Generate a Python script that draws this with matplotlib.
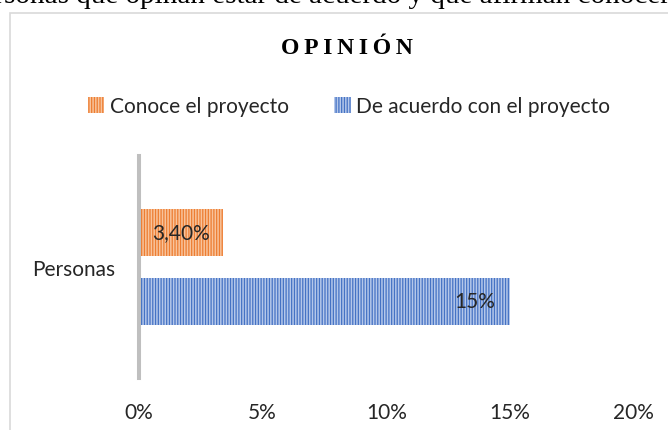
import matplotlib.pyplot as plt
from matplotlib.patches import Rectangle

# data
categoria = 'Personas'
series = ['Conoce el proyecto', 'De acuerdo con el proyecto']
valores = [3.4, 15]
etiquetas = ['3,40%', '15%']
colores = ['#ed7d31', '#4472c4']
rayas = ['#f8c39b', '#b4c7ea']
ticks = [0, 5, 10, 15, 20]
tick_labels = ['0%', '5%', '10%', '15%', '20%']

plt.rcParams['hatch.linewidth'] = 1.1
W, H = 668, 431
fig = plt.figure(figsize=(W / 100, H / 100), dpi=100)

def fx(x): return x / W
def fy(y): return 1 - y / H

# texto del documento (cortado arriba, como en la captura)
fig.text(fx(318), fy(3), 'personas que opinan estar de acuerdo y que afirman conocer',
         family='Liberation Serif', fontsize=21, ha='center', va='baseline')

# marco del grafico
fig.patches.append(Rectangle((fx(10), fy(700)), 1.2, fy(14) - fy(700),
                             transform=fig.transFigure, fill=False,
                             edgecolor='#d9d9d9', lw=1.2))

fig.text(fx(347), fy(48), '\u2009'.join('OPINIÓN'), family='Liberation Serif',
         fontweight='bold', fontsize=17, ha='center', va='center')

ax = fig.add_axes([fx(139), fy(379), fx(633.6) - fx(139), (379 - 157) / H])

alto = 0.212
pos = [0.155, -0.155]
barras = []
for i in range(len(series)):
    b = ax.barh(pos[i], valores[i], height=alto, color=colores[i],
                edgecolor=rayas[i], linewidth=0, hatch='||||||', label=series[i])
    barras.append(b)

ax.text(valores[0] / 2, pos[0], etiquetas[0], ha='center', va='center',
        family='Lato', fontsize=15, color='#262626')
ax.text(valores[1] - 0.6, pos[1], etiquetas[1], ha='right', va='center',
        family='Lato', fontsize=15, color='#262626')

ax.set_xlim(0, 20)
ax.set_ylim(-0.5, 0.5)
ax.set_xticks(ticks)
ax.set_xticklabels(tick_labels)
ax.set_yticks([0])
ax.set_yticklabels([categoria])
ax.tick_params(axis='x', length=0, pad=17, labelsize=15, labelcolor='#262626')
ax.tick_params(axis='y', length=0, pad=17, labelsize=15, labelcolor='#262626')
for lbl in ax.get_xticklabels() + ax.get_yticklabels():
    lbl.set_family('Lato')
for s in ['top', 'right', 'bottom']:
    ax.spines[s].set_visible(False)
ax.spines['left'].set_color('#bfbfbf')
ax.spines['left'].set_linewidth(2.9)

fig.legend(handles=barras, labels=series, loc='center', ncol=2,
           bbox_to_anchor=(fx(349), fy(107)), frameon=False,
           prop={'family': 'Lato', 'size': 15}, handlelength=0.8, handleheight=0.8,
           handletextpad=0.25, columnspacing=2.2, labelcolor='#262626')

fig.savefig('out.png', dpi=100)
